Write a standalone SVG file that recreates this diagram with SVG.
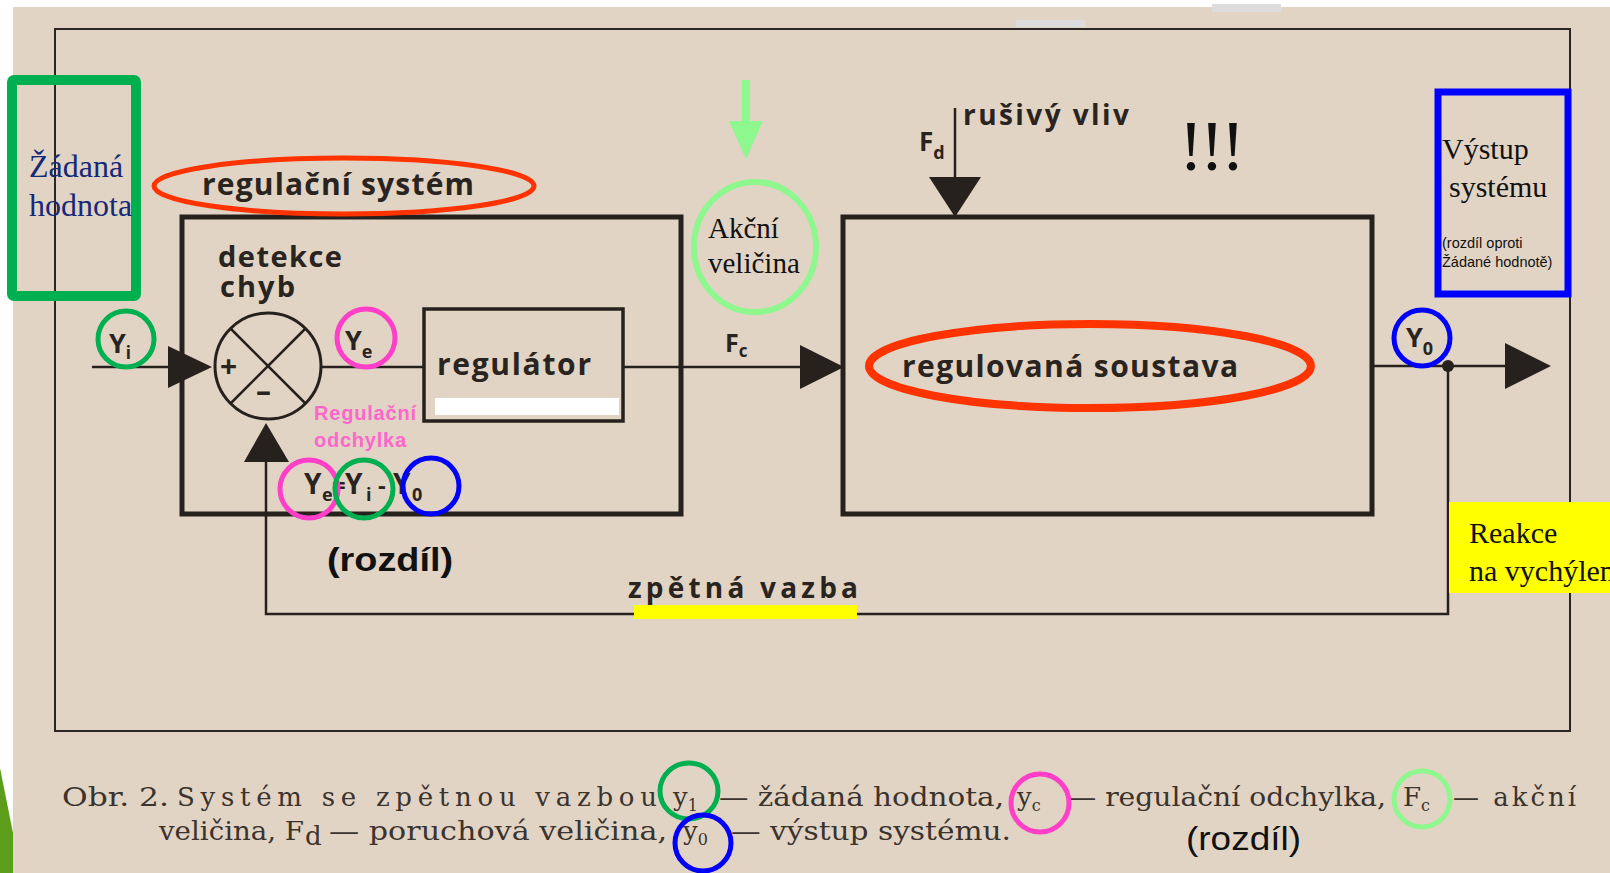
<svg xmlns="http://www.w3.org/2000/svg" width="1610" height="873" viewBox="0 0 1610 873">
<defs>
<style>
.ln{stroke:#26211d;fill:none;stroke-width:2.5}
.box{stroke:#26211d;fill:none;stroke-width:5}
.fr{stroke:#2c2622;fill:none;stroke-width:2}
.ar{fill:#26211d;stroke:none}
.lbl{font-family:"Open Sans",Lato,"DejaVu Sans",sans-serif;font-weight:700;fill:#2a2420}
.tms{font-family:"Liberation Serif","Times New Roman",serif}
.cap{font-family:"DejaVu Serif","Liberation Serif",serif;fill:#3b332d;font-size:26px}
.ar2{font-family:"Liberation Sans",Arial,sans-serif}
.gC{stroke:#00b050;fill:none;stroke-width:5}
.mC{stroke:#ff3fc8;fill:none;stroke-width:5}
.bC{stroke:#0000ff;fill:none;stroke-width:5}
.lgC{stroke:#8ef78e;fill:none;stroke-width:5}
.rE{stroke:#ff3300;fill:none}
</style>
</defs>
<rect x="0" y="0" width="1610" height="873" fill="#e2d4c4"/>
<rect x="0" y="0" width="1610" height="7" fill="#ffffff"/>
<rect x="0" y="0" width="13" height="873" fill="#ffffff"/>
<polygon points="0,768 13,833 13,873 0,873" fill="#5c9e1a"/>
<rect x="1016" y="20" width="69" height="7" fill="#dcdcdc"/>
<rect x="1212" y="4" width="69" height="8" fill="#dcdcdc"/>

<rect class="fr" x="55" y="29" width="1515" height="702"/>

<g id="connectors">
<line class="ln" x1="92" y1="367" x2="170" y2="367"/>
<polygon class="ar" points="168,346 168,388 212,367"/>
<line class="ln" x1="321" y1="367" x2="424" y2="367"/>
<line class="ln" x1="623" y1="367" x2="802" y2="367"/>
<polygon class="ar" points="800,345 800,389 844,367"/>
<line class="ln" x1="955" y1="108" x2="955" y2="180"/>
<polygon class="ar" points="929,177 981,177 955,217"/>
<line class="ln" x1="1372" y1="366" x2="1507" y2="366"/>
<polygon class="ar" points="1505,343 1505,389 1551,366"/>
<circle class="ar" cx="1448" cy="366" r="6"/>
<polyline class="ln" points="1448,366 1448,614 266,614 266,460"/>
<polygon class="ar" points="266,423 244,462 289,462"/>
</g>

<g id="reg-system">
<rect class="box" x="182" y="217" width="499" height="297"/>
<ellipse class="rE" cx="344" cy="186" rx="190" ry="28" stroke-width="5"/>
<text class="lbl" x="202" y="195" font-size="30" textLength="272" lengthAdjust="spacing">regulační  systém</text>
</g>

<g id="sum-junction">
<circle cx="268" cy="366" r="53" fill="none" stroke="#26211d" stroke-width="3"/>
<line class="ln" x1="230.5" y1="328.5" x2="305.5" y2="403.5"/>
<line class="ln" x1="305.5" y1="328.5" x2="230.5" y2="403.5"/>
<text class="lbl" x="220" y="377" font-size="30">+</text>
<text class="lbl" x="256" y="402" font-size="30">–</text>
<text class="lbl" x="218" y="267" font-size="29" textLength="124" lengthAdjust="spacing">detekce</text>
<text class="lbl" x="220" y="297" font-size="29" textLength="75" lengthAdjust="spacing">chyb</text>
</g>

<g id="regulator">
<rect x="424" y="309" width="199" height="112" fill="none" stroke="#26211d" stroke-width="3.5"/>
<text class="lbl" x="437" y="375" font-size="30" textLength="154" lengthAdjust="spacing">regulátor</text>
<rect x="435" y="398" width="184" height="17" fill="#ffffff"/>
</g>

<g id="plant">
<rect class="box" x="843" y="217" width="529" height="297"/>
<ellipse class="rE" cx="1090" cy="366" rx="221" ry="42" stroke-width="8"/>
<text class="lbl" x="902" y="377" font-size="30" textLength="336" lengthAdjust="spacing">regulovaná  soustava</text>
</g>

<g id="disturbance">
<text class="lbl" x="919" y="151" font-size="26">F<tspan font-size="18" dy="8">d</tspan></text>
<text class="lbl" x="963" y="125" font-size="28" textLength="166" lengthAdjust="spacing">rušivý  vliv</text>
<text class="tms" x="1179" y="170" font-size="72" fill="#111" textLength="66" lengthAdjust="spacing">!!!</text>
</g>

<g id="signal-labels">
<text class="lbl" x="725" y="352" font-size="25">F<tspan font-size="17" dy="5">c</tspan></text>
<circle class="gC" cx="126" cy="339" r="28"/>
<text class="lbl" x="109" y="353" font-size="27">Y<tspan font-size="17" dy="6">i</tspan></text>
<circle class="mC" cx="366" cy="338" r="29"/>
<text class="lbl" x="345" y="350" font-size="27">Y<tspan font-size="18" dy="8">e</tspan></text>
<circle class="bC" cx="1422" cy="338" r="28"/>
<text class="lbl" x="1406" y="347" font-size="27">Y<tspan font-size="18" dy="8">0</tspan></text>
</g>

<g id="error-note">
<text class="ar2" x="314" y="420" font-size="20" font-weight="700" fill="#ff66cc" textLength="102" lengthAdjust="spacing">Regulační</text>
<text class="ar2" x="314" y="447" font-size="20" font-weight="700" fill="#ff66cc" textLength="92" lengthAdjust="spacing">odchylka</text>
<text class="lbl" x="304" y="494" font-size="28">Y</text>
<text class="lbl" x="322" y="501" font-size="18">e</text>
<text class="lbl" x="332" y="494" font-size="24">=</text>
<text class="lbl" x="345" y="494" font-size="28">Y</text>
<text class="lbl" x="366" y="501" font-size="18">i</text>
<text class="lbl" x="378" y="494" font-size="24">-</text>
<text class="lbl" x="393" y="494" font-size="28">Y</text>
<text class="lbl" x="412" y="501" font-size="18">0</text>
<circle class="mC" cx="309" cy="489" r="29"/>
<circle class="gC" cx="364" cy="489" r="29"/>
<circle class="bC" cx="431" cy="486" r="28"/>
<text class="ar2" x="327" y="571" font-size="34" font-weight="700" fill="#111" textLength="126" lengthAdjust="spacingAndGlyphs">(rozdíl)</text>
</g>

<g id="feedback-label">
<text class="lbl" x="628" y="598" font-size="28" textLength="230" lengthAdjust="spacing">zpětná  vazba</text>
<rect x="634" y="605" width="223" height="14" fill="#ffff00"/>
</g>

<g id="setpoint-note">
<rect x="12" y="80" width="124" height="216" rx="2" fill="none" stroke="#00b050" stroke-width="10"/>
<text class="tms" x="29" y="177" font-size="32" fill="#142a78">Žádaná</text>
<text class="tms" x="29" y="216" font-size="32" fill="#142a78">hodnota</text>
</g>

<g id="action-note">
<polygon points="742,80 750,80 750,121 763,121 746,159 729,121 742,121" fill="#8ef78e"/>
<ellipse cx="755" cy="247" rx="61" ry="65" fill="none" stroke="#8ef78e" stroke-width="6"/>
<text class="tms" x="708" y="238" font-size="29" fill="#111">Akční</text>
<text class="tms" x="708" y="273" font-size="29" fill="#111">veličina</text>
</g>

<g id="output-note">
<rect x="1438" y="92" width="130" height="202" fill="none" stroke="#0000ff" stroke-width="7"/>
<text class="tms" x="1442" y="159" font-size="30" fill="#111">Výstup</text>
<text class="tms" x="1449" y="197" font-size="30" fill="#111">systému</text>
<text class="ar2" x="1442" y="248" font-size="14.5" fill="#111">(rozdíl oproti</text>
<text class="ar2" x="1442" y="267" font-size="14.5" fill="#111">Žádané hodnotě)</text>
</g>

<g id="reaction-note">
<rect x="1449" y="502" width="161" height="91" fill="#ffff00"/>
<text class="tms" x="1469" y="543" font-size="30" fill="#111">Reakce</text>
<text class="tms" x="1469" y="581" font-size="30" fill="#111">na vychýlení</text>
</g>

<g id="caption">
<text class="cap" x="62" y="806" textLength="107" lengthAdjust="spacingAndGlyphs">Obr. 2.</text>
<text class="cap" x="177" y="806" textLength="480" lengthAdjust="spacing">Systém se zpětnou vazbou</text>
<text class="cap" x="673" y="806">y<tspan font-size="16" dy="5">1</tspan></text>
<text class="cap" x="719" y="806" textLength="285" lengthAdjust="spacingAndGlyphs">— žádaná hodnota,</text>
<text class="cap" x="1017" y="806">y<tspan font-size="16" dy="5">c</tspan></text>
<text class="cap" x="1068" y="806" textLength="318" lengthAdjust="spacingAndGlyphs">— regulační odchylka,</text>
<text class="cap" x="1403" y="806">F<tspan font-size="16" dy="5">c</tspan></text>
<text class="cap" x="1453" y="806" textLength="123" lengthAdjust="spacing">— akční</text>
<text class="cap" x="159" y="840" textLength="145" lengthAdjust="spacingAndGlyphs">veličina, F</text>
<text class="cap" x="305" y="845" font-size="16">d</text>
<text class="cap" x="329" y="840" textLength="338" lengthAdjust="spacingAndGlyphs">— poruchová veličina,</text>
<text class="cap" x="683" y="840">y<tspan font-size="16" dy="5">0</tspan></text>
<text class="cap" x="731" y="840" textLength="280" lengthAdjust="spacingAndGlyphs">— výstup systému.</text>
<ellipse class="gC" cx="689" cy="791" rx="29" ry="28"/>
<ellipse class="mC" cx="1040" cy="803" rx="29" ry="29"/>
<ellipse class="lgC" cx="1422" cy="799" rx="28" ry="28"/>
<ellipse class="bC" cx="703" cy="843" rx="28" ry="28"/>
<text class="ar2" x="1186" y="850" font-size="34" fill="#111" textLength="115" lengthAdjust="spacingAndGlyphs">(rozdíl)</text>
</g>
</svg>
